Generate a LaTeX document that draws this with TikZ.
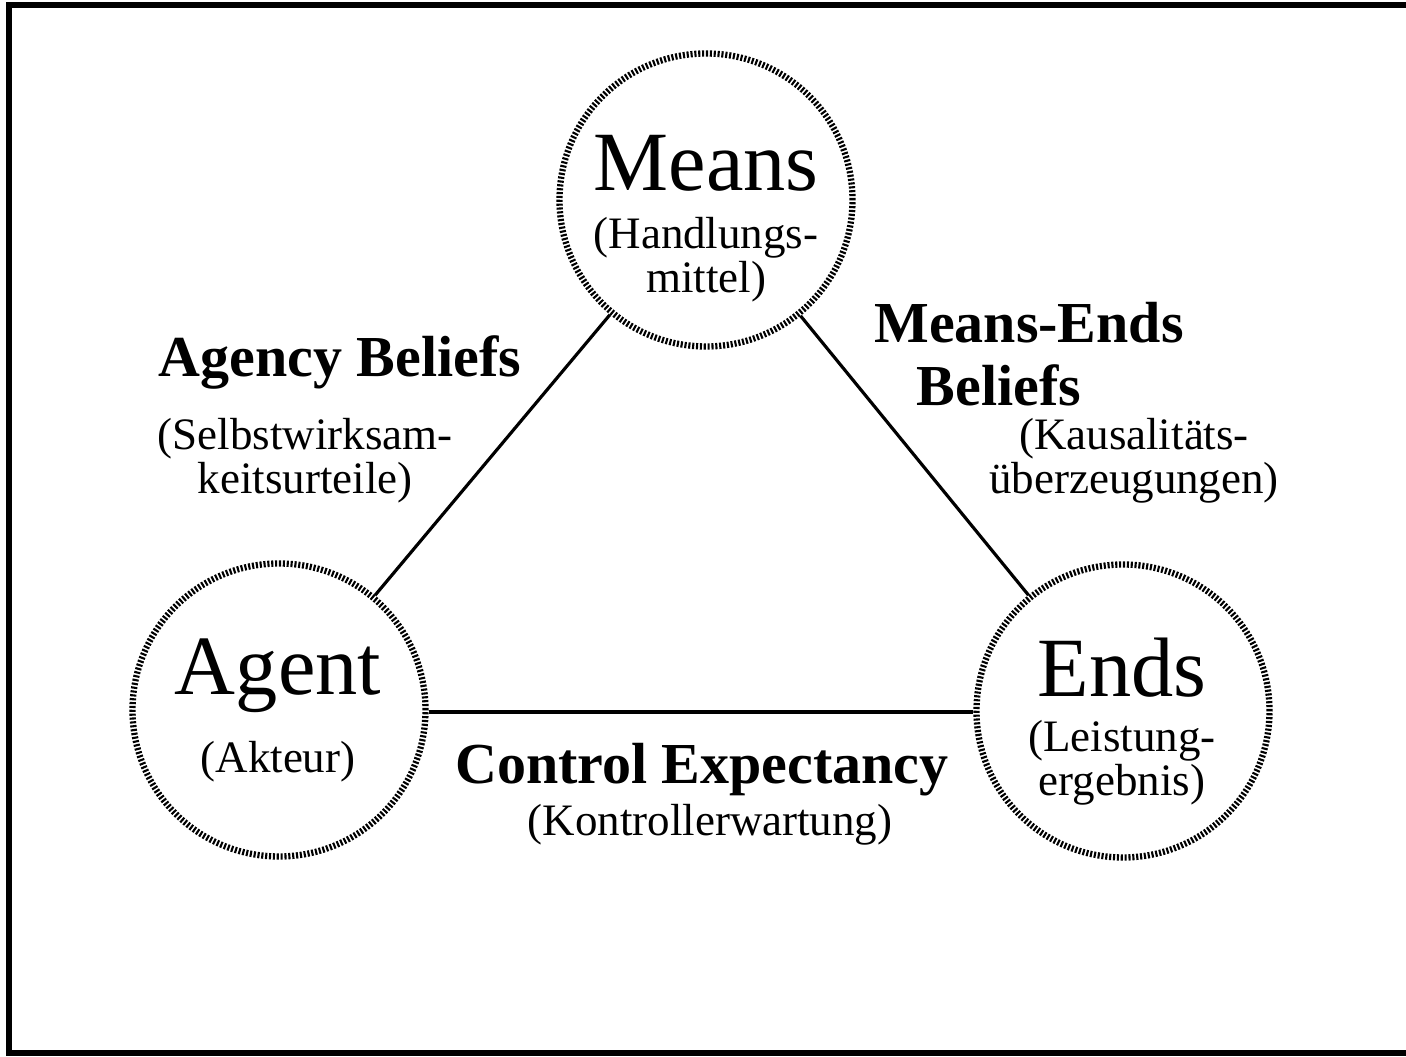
\documentclass[tikz,border=0pt]{standalone}
\usepackage{fontspec}
\setmainfont{Liberation Serif}
\usepackage{tikz}
\usetikzlibrary{positioning}
\tikzset{
    bubble/.style={draw, circle, line width=1.8pt, dash pattern=on 0.6pt off 0.5pt, minimum size=2.93cm, inner sep=0pt},
    link/.style={line width=0.9pt},
    bigname/.style={inner sep=0pt, anchor=base, font=\fontsize{24}{26}\selectfont},
    belief/.style={inner sep=0pt, anchor=base, font=\bfseries\fontsize{16.5}{18}\selectfont},
    gloss/.style={inner sep=0pt, anchor=base, align=center, font=\fontsize{12.8}{11.5}\selectfont}
}
\begin{document}
\begin{tikzpicture}
    \useasboundingbox (0,0) rectangle (14.06,10.57);
    % outer frame
    \draw[line width=1.6pt] (0.09,0.04) rectangle (14.15,10.52);

    % the three circles
    \node[bubble] (means) at (7.06,8.57) {};
    \node[bubble] (agent) at (2.79,3.47) {};
    \node[bubble] (ends) at (11.23,3.46) {};

    % names and glosses inside the circles (gloss y = baseline of last line)
    \node[bigname] (meansname) at (7.06,8.66) {Means};
    \node[gloss] (meansgloss) at (7.06,7.64) {(Handlungs-\\mittel)};
    \node[bigname] (agentname) at (2.78,3.62) {Agent};
    \node[gloss] (agentgloss) at (2.78,2.84) {(Akteur)};
    \node[bigname] (endsname) at (11.22,3.60) {Ends};
    \node[gloss] (endsgloss) at (11.22,2.61) {(Leistung-\\ergebnis)};

    % connectors
    \draw[link] (agent) -- (means);
    \draw[link] (means) -- (ends);
    \draw[link] (agent.east |- 0,3.45) -- (ends.west |- 0,3.45);

    % labels of the connectors
    \node[belief] (agency) at (3.40,6.80) {Agency Beliefs};
    \node[gloss] (agencygloss) at (3.05,5.63) {(Selbstwirksam-\\keitsurteile)};
    \node[belief] (meansends) at (10.29,7.14) {Means-Ends};
    \node[belief] (meansendsb) at (9.99,6.51) {Beliefs};
    \node[gloss] (meansendsgloss) at (11.34,5.63) {(Kausalitäts-\\überzeugungen)};
    \node[belief] (control) at (7.02,2.73) {Control Expectancy};
    \node[gloss] (controlgloss) at (7.10,2.21) {(Kontrollerwartung)};
\end{tikzpicture}
\end{document}
